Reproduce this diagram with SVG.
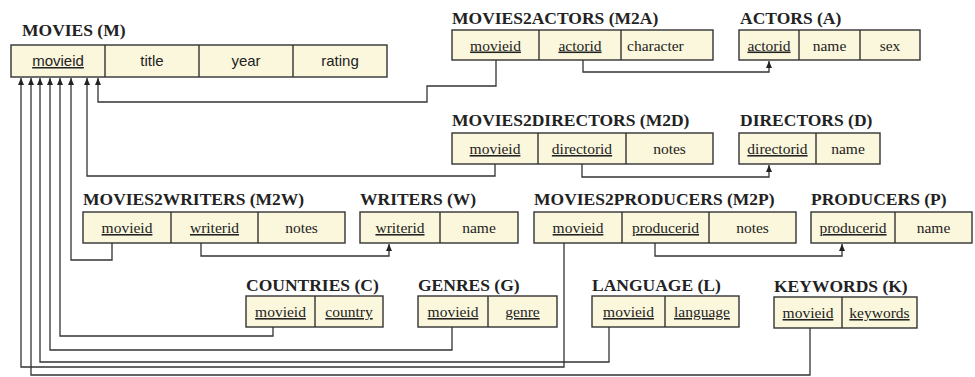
<svg xmlns="http://www.w3.org/2000/svg" width="975" height="377" viewBox="0 0 975 377">
<style>
.box{fill:#fbf7dc;stroke:#333;stroke-width:1.4}
.div{stroke:#333;stroke-width:1.4}
.t{font-family:"Liberation Serif","Times New Roman",serif;font-weight:bold;font-size:17.5px;fill:#222}
.c{font-family:"Liberation Serif","Times New Roman",serif;font-size:15.5px;fill:#222;text-anchor:middle}
.cs{font-family:"Liberation Sans",Arial,sans-serif;font-size:15px;fill:#222;text-anchor:middle}
.u{text-decoration:underline}
.ln{fill:none;stroke:#333;stroke-width:1.3}
</style>
<defs>
<marker id="ah" markerWidth="8" markerHeight="8" refX="7" refY="4" orient="auto" markerUnits="userSpaceOnUse">
<path d="M0,1 L7,4 L0,7 Z" fill="#222"/>
</marker>
</defs>
<rect width="975" height="377" fill="#fff"/>

<g id="connectors">
<path class="ln" d="M496 60 V86 H427 V102 H98 V78" marker-end="url(#ah)"/>
<path class="ln" d="M583 60 V72 H769 V61" marker-end="url(#ah)"/>
<path class="ln" d="M495 164 V176 H87 V78" marker-end="url(#ah)"/>
<path class="ln" d="M582 164 V177 H769 V165" marker-end="url(#ah)"/>
<path class="ln" d="M112 243 V260 H71 V78" marker-end="url(#ah)"/>
<path class="ln" d="M201 243 V256 H389 V244" marker-end="url(#ah)"/>
<path class="ln" d="M564 243 V367 H21 V78" marker-end="url(#ah)"/>
<path class="ln" d="M655 243 V256 H842 V244" marker-end="url(#ah)"/>
<path class="ln" d="M273 327 V336 H60 V78" marker-end="url(#ah)"/>
<path class="ln" d="M452 327 V350 H50 V78" marker-end="url(#ah)"/>
<path class="ln" d="M609 327 V362 H40 V78" marker-end="url(#ah)"/>
<path class="ln" d="M810 328 V375 H31 V78" marker-end="url(#ah)"/>
</g>

<g id="movies">
<text class="t" x="22" y="36">MOVIES (M)</text>
<rect class="box" x="11" y="45" width="376" height="32"/>
<line class="div" x1="105" y1="45" x2="105" y2="77"/>
<line class="div" x1="199" y1="45" x2="199" y2="77"/>
<line class="div" x1="293" y1="45" x2="293" y2="77"/>
<text class="cs u" x="58" y="66">movieid</text>
<text class="cs" x="152" y="66">title</text>
<text class="cs" x="246" y="66">year</text>
<text class="cs" x="340" y="66">rating</text>
</g>

<g id="m2a">
<text class="t" x="452" y="24">MOVIES2ACTORS (M2A)</text>
<rect class="box" x="452" y="30" width="261" height="30"/>
<line class="div" x1="539" y1="30" x2="539" y2="60"/>
<line class="div" x1="621" y1="30" x2="621" y2="60"/>
<text class="c u" x="495.5" y="50.5">movieid</text>
<text class="c u" x="580" y="50.5">actorid</text>
<text class="c" x="627" y="50.5" style="text-anchor:start">character</text>
</g>

<g id="actors">
<text class="t" x="740" y="24">ACTORS (A)</text>
<rect class="box" x="739" y="30" width="181" height="30"/>
<line class="div" x1="799" y1="30" x2="799" y2="60"/>
<line class="div" x1="860" y1="30" x2="860" y2="60"/>
<text class="c u" x="769" y="50.5">actorid</text>
<text class="c" x="829.5" y="50.5">name</text>
<text class="c" x="890" y="50.5">sex</text>
</g>

<g id="m2d">
<text class="t" x="452" y="126">MOVIES2DIRECTORS (M2D)</text>
<rect class="box" x="452" y="133" width="261" height="31"/>
<line class="div" x1="538" y1="133" x2="538" y2="164"/>
<line class="div" x1="626" y1="133" x2="626" y2="164"/>
<text class="c u" x="495" y="154">movieid</text>
<text class="c u" x="582" y="154">directorid</text>
<text class="c" x="669.5" y="154">notes</text>
</g>

<g id="directors">
<text class="t" x="740" y="126">DIRECTORS (D)</text>
<rect class="box" x="739" y="133" width="141" height="31"/>
<line class="div" x1="816" y1="133" x2="816" y2="164"/>
<text class="c u" x="777.5" y="154">directorid</text>
<text class="c" x="848" y="154">name</text>
</g>

<g id="m2w">
<text class="t" x="83" y="205">MOVIES2WRITERS (M2W)</text>
<rect class="box" x="83" y="212" width="262" height="31"/>
<line class="div" x1="171" y1="212" x2="171" y2="243"/>
<line class="div" x1="258" y1="212" x2="258" y2="243"/>
<text class="c u" x="127" y="233">movieid</text>
<text class="c u" x="214.5" y="233">writerid</text>
<text class="c" x="301.5" y="233">notes</text>
</g>

<g id="writers">
<text class="t" x="360" y="205">WRITERS (W)</text>
<rect class="box" x="360" y="212" width="158" height="31"/>
<line class="div" x1="440" y1="212" x2="440" y2="243"/>
<text class="c u" x="400" y="233">writerid</text>
<text class="c" x="479" y="233">name</text>
</g>

<g id="m2p">
<text class="t" x="534" y="205">MOVIES2PRODUCERS (M2P)</text>
<rect class="box" x="534" y="212" width="262" height="31"/>
<line class="div" x1="622" y1="212" x2="622" y2="243"/>
<line class="div" x1="709" y1="212" x2="709" y2="243"/>
<text class="c u" x="578" y="233">movieid</text>
<text class="c u" x="665.5" y="233">producerid</text>
<text class="c" x="752.5" y="233">notes</text>
</g>

<g id="producers">
<text class="t" x="811" y="205">PRODUCERS (P)</text>
<rect class="box" x="811" y="212" width="161" height="31"/>
<line class="div" x1="895" y1="212" x2="895" y2="243"/>
<text class="c u" x="853" y="233">producerid</text>
<text class="c" x="933.5" y="233">name</text>
</g>

<g id="countries">
<text class="t" x="246" y="291">COUNTRIES (C)</text>
<rect class="box" x="246" y="296" width="137" height="31"/>
<line class="div" x1="315" y1="296" x2="315" y2="327"/>
<text class="c u" x="280.5" y="317">movieid</text>
<text class="c u" x="349" y="317">country</text>
</g>

<g id="genres">
<text class="t" x="418" y="291">GENRES (G)</text>
<rect class="box" x="418" y="296" width="139" height="31"/>
<line class="div" x1="488" y1="296" x2="488" y2="327"/>
<text class="c u" x="453" y="317">movieid</text>
<text class="c u" x="522.5" y="317">genre</text>
</g>

<g id="language">
<text class="t" x="592" y="291">LANGUAGE (L)</text>
<rect class="box" x="592" y="296" width="147" height="31"/>
<line class="div" x1="665" y1="296" x2="665" y2="327"/>
<text class="c u" x="628.5" y="317">movieid</text>
<text class="c u" x="702" y="317">language</text>
</g>

<g id="keywords">
<text class="t" x="774" y="292">KEYWORDS (K)</text>
<rect class="box" x="774" y="297" width="143" height="31"/>
<line class="div" x1="842" y1="297" x2="842" y2="328"/>
<text class="c u" x="808" y="318">movieid</text>
<text class="c u" x="879.5" y="318">keywords</text>
</g>
</svg>
